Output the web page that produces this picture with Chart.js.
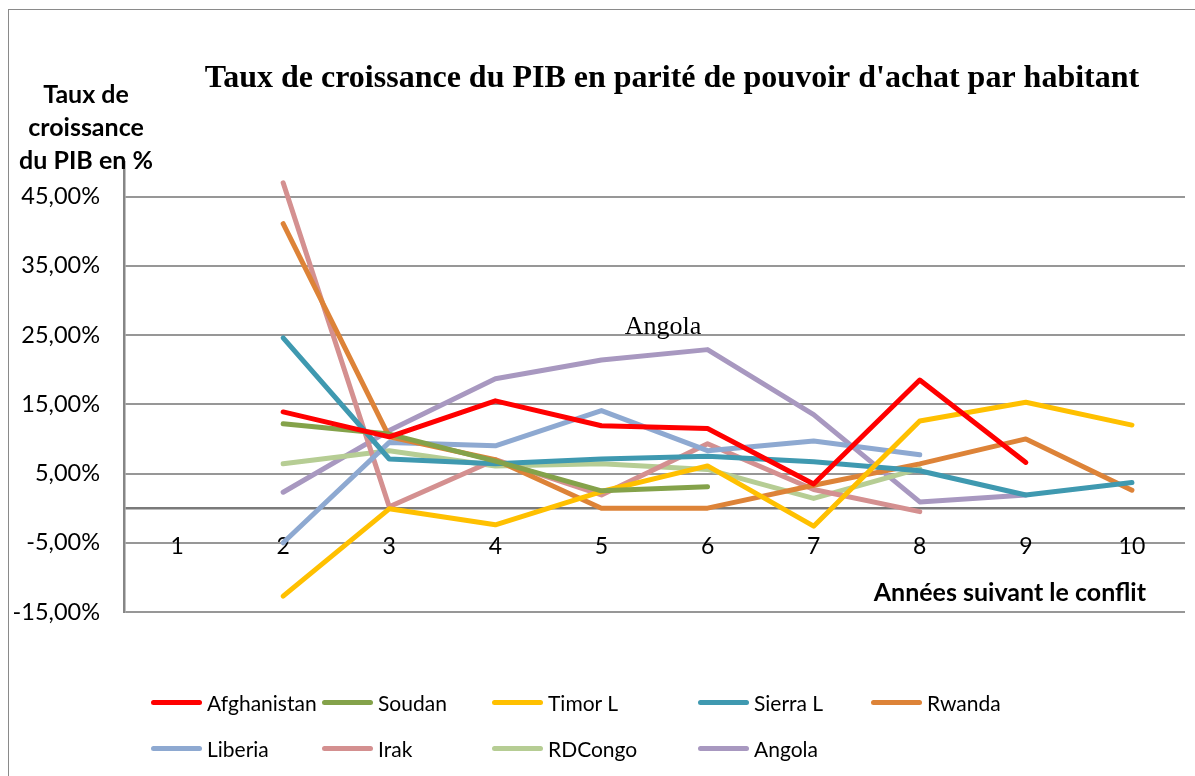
<!DOCTYPE html>
<html lang="fr">
<head>
<meta charset="utf-8">
<title>Taux de croissance du PIB</title>
<script src="https://cdn.jsdelivr.net/npm/chart.js@4.4.0/dist/chart.umd.min.js"></script>
<style>
  body { margin: 0; background: #fff; }
  #wrap { position: relative; width: 1195px; height: 776px; overflow: hidden; }
  #cadre { position: absolute; left: 8px; top: 9px; width: 1200px; height: 800px; border: 1.5px solid #8a8a8a; box-sizing: border-box; }
  canvas { position: absolute; left: 0; top: 0; }
  .leg { position: absolute; display: flex; align-items: center; font-family: Lato, "Noto Sans", sans-serif; font-size: 21px; color: #000; }
  .leg i { display: inline-block; width: 51px; height: 5px; border-radius: 3px; margin-right: 5px; }
</style>
</head>
<body>
<div id="wrap">
  <div id="cadre"></div>
  <canvas id="graphe" width="1195" height="776"></canvas>
  <div id="legende"></div>
</div>
<script>
// --- données (en %) ---
const annees = ['1', '2', '3', '4', '5', '6', '7', '8', '9', '10'];
const yTicks = [-15, -5, 0, 5, 15, 25, 35, 45];

const pays = ['Afghanistan', 'Soudan', 'Timor L', 'Sierra L', 'Rwanda', 'Liberia', 'Irak', 'RDCongo', 'Angola'];
const couleurs = ['#ff0000', '#84a24a', '#ffc000', '#3f99b0', '#dd8338', '#8ea9d1', '#d49090', '#b6cd94', '#a898c0'];

const afghanistan = [null, 13.9, 10.3, 15.5, 11.9, 11.5, 3.5, 18.5, 6.6, null];
const soudan      = [null, 12.2, 10.7, 6.8, 2.5, 3.1, null, null, null, null];
const timor       = [null, -12.7, -0.1, -2.4, 2.4, 6.1, -2.6, 12.6, 15.3, 12.0];
const sierra      = [null, 24.6, 7.1, 6.4, 7.1, 7.5, 6.7, 5.4, 1.9, 3.7];
const rwanda      = [null, 41.1, 10.3, 7.0, 0.0, 0.0, 3.3, 6.4, 10.0, 2.6];
const liberia     = [null, -5.0, 9.5, 9.0, 14.1, 8.3, 9.7, 7.7, null, null];
const irak        = [null, 47.0, 0.2, 7.0, 1.9, 9.3, 2.7, -0.5, null, null];
const rdcongo     = [null, 6.4, 8.3, 6.1, 6.4, 5.6, 1.4, 5.7, null, null];
const angola      = [null, 2.3, 11.2, 18.7, 21.4, 22.9, 13.5, 0.9, 1.9, null];

const series = [afghanistan, soudan, timor, sierra, rwanda, liberia, irak, rdcongo, angola];

// --- légende HTML (colonnes alignées comme dans Excel) ---
const colX = [151, 322, 492, 698, 871];
const rowY = [702, 748];
const legende = document.getElementById('legende');
pays.forEach((nom, i) => {
    const d = document.createElement('div');
    d.className = 'leg';
    d.style.left = colX[i % 5] + 'px';
    d.style.top = (rowY[Math.floor(i / 5)] - 14) + 'px';
    d.style.height = '28px';
    d.innerHTML = '<i style="background:' + couleurs[i] + '"></i><span>' + nom + '</span>';
    legende.appendChild(d);
});

// --- textes : titre, titres d'axes, étiquette Angola ---
const textes = {
    id: 'textes',
    afterDraw(chart) {
        const ctx = chart.ctx;
        const { x, y } = chart.scales;
        ctx.save();
        ctx.fillStyle = '#000';
        ctx.textBaseline = 'middle';
        ctx.textAlign = 'center';

        ctx.font = 'bold 32px "Liberation Serif", "Times New Roman", serif';
        ctx.fillText("Taux de croissance du PIB en parité de pouvoir d'achat par habitant", 672, 79);

        ctx.font = 'bold 25px Lato, "Noto Sans", sans-serif';
        ['Taux de', 'croissance', 'du PIB en %'].forEach((l, i) => ctx.fillText(l, 86, 95 + i * 33));

        ctx.textAlign = 'right';
        ctx.fillText('Années suivant le conflit', 1146, 593);

        ctx.textAlign = 'center';
        ctx.font = '26px "Liberation Serif", "Times New Roman", serif';
        ctx.fillText('Angola', x.getPixelForValue(4.58), y.getPixelForValue(26.1));
        ctx.restore();
    }
};

new Chart(document.getElementById('graphe'), {
    type: 'line',
    data: {
        labels: annees,
        datasets: series.map((s, i) => ({
            label: pays[i],
            data: s,
            borderColor: couleurs[i],
            backgroundColor: couleurs[i],
            borderWidth: 5,
            pointRadius: 0,
            tension: 0,
            borderCapStyle: 'round',
            borderJoinStyle: 'round',
            spanGaps: false
        }))
    },
    options: {
        responsive: false,
        animation: false,
        layout: { padding: { left: 0, right: 10, top: 162, bottom: 164 } },
        plugins: {
            legend: { display: false },
            tooltip: { enabled: false },
            title: { display: false }
        },
        scales: {
            x: {
                offset: true,
                position: { y: 0 },
                grid: { display: false },
                border: { display: false },
                ticks: {
                    color: '#000',
                    font: { family: 'Lato, "Noto Sans", sans-serif', size: 23 },
                    padding: 17,
                    maxRotation: 0,
                    autoSkip: false
                }
            },
            y: {
                min: -15,
                max: 50,
                afterBuildTicks: s => { s.ticks = yTicks.map(v => ({ value: v })); },
                afterFit: s => { s.width = 124; },
                grid: {
                    drawTicks: false,
                    color: c => c.tick && c.tick.value === 0 ? '#7a7a7a' : '#979797',
                    lineWidth: c => c.tick && c.tick.value === 0 ? 2.5 : 2
                },
                border: { color: '#868686', width: 2.5 },
                ticks: {
                    color: '#000',
                    padding: 24,
                    font: { family: 'Lato, "Noto Sans", sans-serif', size: 23.5 },
                    callback: v => v === 0 ? '' : v.toFixed(2).replace('.', ',') + '%'
                }
            }
        }
    },
    plugins: [textes]
});
</script>
</body>
</html>
